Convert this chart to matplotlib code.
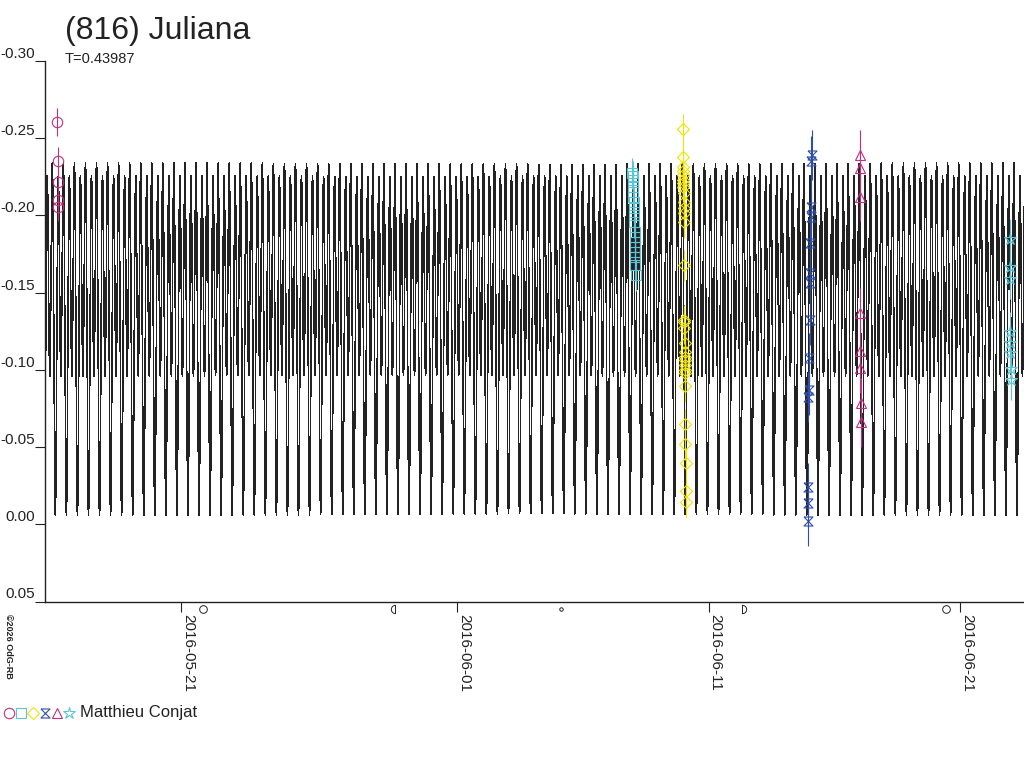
import datetime as dt
import numpy as np
import matplotlib
matplotlib.use("Agg")
import matplotlib.pyplot as plt
import matplotlib.dates as mdates
from matplotlib.path import Path
from matplotlib.lines import Line2D

plt.rcParams['font.family'] = ['Liberation Sans', 'DejaVu Sans']
plt.rcParams['axes.unicode_minus'] = False

# ---------------- data ----------------
title = "(816) Juliana"
period_label = "T=0.43987"
period = 0.43987
observer = "Matthieu Conjat"
copyright_text = "\u00a92026 OdG-RB"

# Fourier model of the lightcurve (mag vs phase)
model_c0 = -0.139
model_cos = [0.045, 0.088]
model_sin = [0.004, 0.0]
model_epoch = 15.0          # days since 2016-05-01
model_step = 0.01           # days between model samples

# observation sessions (time: days since 2016-05-01, relative magnitude)
circ_t = [15.08, 15.09, 15.10, 15.11, 15.12]
circ_m = [-0.2603, -0.2354, -0.2218, -0.2098, -0.2052]
circ_e = 0.009

sq_t = [37.96, 37.97, 37.98, 37.99, 38.00, 38.00, 38.01, 38.02, 38.03,
        38.04, 38.05, 38.05, 38.06, 38.07, 38.08, 38.08, 38.09]
sq_m = [-0.2274, -0.2255, -0.2229, -0.2184, -0.2151, -0.2119, -0.2086, -0.2047,
        -0.2002, -0.1957, -0.1892, -0.1860, -0.1795, -0.1762, -0.1730, -0.1678,
        -0.1613]
sq_e = 0.010

dia_t = [39.97, 39.97, 39.98, 39.98, 39.98, 39.99, 39.99, 39.99, 40.00, 40.00,
         40.00, 40.01, 40.01, 40.02, 40.03, 40.03, 40.03, 40.04, 40.04, 40.04,
         40.05, 40.05, 40.05, 40.06, 40.06, 40.07, 40.07, 40.08, 40.08, 40.09]
dia_m = [-0.2559, -0.2378, -0.2313, -0.2287, -0.2261, -0.2229, -0.2209, -0.2184,
         -0.2145, -0.2086, -0.2047, -0.2015, -0.1957, -0.1678, -0.1322, -0.1309,
         -0.1270, -0.1173, -0.1114, -0.1082, -0.1062, -0.1030, -0.0998, -0.0978,
         -0.0894, -0.0648, -0.0518, -0.0395, -0.0214, -0.0142]
dia_e = 0.010

hg_t = [45.10, 45.09, 45.08, 45.07, 45.05, 45.04, 45.03, 45.02, 45.00, 44.98,
        44.97, 44.96, 44.95, 44.94]
hg_m = [-0.2391, -0.2352, -0.2054, -0.1989, -0.1821, -0.1626, -0.1562, -0.1322,
        -0.1076, -0.0869, -0.0823, -0.0240, -0.0137, -0.0021]
hg_e = 0.016

tri_t = [47.01, 47.01, 47.02, 47.03, 47.03, 47.04, 47.05, 47.05]
tri_m = [-0.2391, -0.2309, -0.2121, -0.1368, -0.1123, -0.1011, -0.0785, -0.0663]
tri_e = 0.016

star_t = [52.98, 52.98, 52.99, 53.00, 53.00, 53.01, 53.02, 53.02]
star_m = [-0.1847, -0.1666, -0.1588, -0.1245, -0.1173, -0.1109, -0.1005, -0.0933]
star_e = 0.013

# moon phases (days since 2016-05-01) and kinds
moon_t = [20.88, 28.51, 35.13, 42.34, 50.46]
moon_kind = ["full", "last", "new", "first", "full"]

y_ticks = [-0.30, -0.25, -0.20, -0.15, -0.10, -0.05, 0.00, 0.05]
x_range = (14.59, 53.55)

# ---------------- styles ----------------
C_MAG = "#c0307f"
C_CYAN = "#5cc4d6"
C_YEL = "#f2e200"
C_BLUE = "#2f4fa6"
C_LINE = "#222222"
TXT = "#222222"

base = mdates.date2num(dt.datetime(2016, 5, 1))

hourglass = Path([(-1, 1), (1, 1), (-1, -1), (1, -1), (-1, 1)],
                 [Path.MOVETO, Path.LINETO, Path.LINETO, Path.LINETO, Path.LINETO])
arc_r = Path.arc(-90, 90)
first_q = Path(np.vstack([arc_r.vertices, [[0, -1]]]),
               list(arc_r.codes) + [Path.LINETO])
arc_l = Path.arc(90, 270)
last_q = Path(np.vstack([arc_l.vertices, [[0, 1]]]),
              list(arc_l.codes) + [Path.LINETO])

fig = plt.figure(figsize=(10.24, 7.68), dpi=100)
W, H = 1024, 768
ax = fig.add_axes([45 / W, 1 - 601.5 / H, (W - 45) / W, (601.5 - 61) / H])

# model curve
t_model = np.arange(x_range[0] + 0.01, x_range[1] + 0.05, model_step)
ph = 2 * np.pi * (t_model - model_epoch) / period
m_model = model_c0 + sum(a * np.cos((k + 1) * ph) for k, a in enumerate(model_cos)) \
    + sum(b * np.sin((k + 1) * ph) for k, b in enumerate(model_sin))
ax.plot(base + t_model, m_model, color=C_LINE, lw=0.4, antialiased=False, zorder=1)

sessions = [
    (circ_t, circ_m, circ_e, 'o', C_MAG),
    (sq_t, sq_m, sq_e, 's', C_CYAN),
    (dia_t, dia_m, dia_e, 'D', C_YEL),
    (hg_t, hg_m, hg_e, hourglass, C_BLUE),
    (tri_t, tri_m, tri_e, '^', C_MAG),
    (star_t, star_m, star_e, '*', C_CYAN),
]
sizes = {'o': 7.5, 's': 6.5, 'D': 6.0, '^': 7.5, '*': 9.0}
for t, m, e, mk, c in sessions:
    tt = base + np.array(t)
    ax.errorbar(tt, m, yerr=e, fmt='none', ecolor=c, elinewidth=0.8, capsize=0, zorder=2)
    ms = sizes.get(mk, 6.5) if isinstance(mk, str) else 6.5
    ax.plot(tt, m, linestyle='none', marker=mk, mfc='none', mec=c, ms=ms, mew=0.8, zorder=3)

ax.set_xlim(base + x_range[0], base + x_range[1])
ax.set_ylim(0.05, -0.30)

for s in ['top', 'right']:
    ax.spines[s].set_visible(False)
for s in ['left', 'bottom']:
    ax.spines[s].set_color(TXT)
    ax.spines[s].set_linewidth(1.0)

ax.set_yticks(y_ticks)
ax.set_yticklabels([f"{v:.2f}" for v in y_ticks])
ax.tick_params(axis='y', direction='out', length=7, width=0.8, colors=TXT,
               labelsize=11, pad=0)
for lab in ax.get_yticklabels():
    lab.set_verticalalignment('bottom')

ax.xaxis.set_major_locator(mdates.DayLocator(bymonthday=[1, 11, 21]))
ax.xaxis.set_major_formatter(mdates.DateFormatter('%Y-%m-%d'))
ax.tick_params(axis='x', direction='out', length=7.5, width=0.8, colors=TXT,
               labelsize=11, pad=1.5, labelrotation=-90)
for lab in ax.get_xticklabels():
    lab.set_horizontalalignment('left')
    lab.set_verticalalignment('top')

# moon phases
moon_tr = ax.get_xaxis_transform()
for t, kind in zip(moon_t, moon_kind):
    if kind == 'full':
        mk, ms = 'o', 5.5
    elif kind == 'new':
        mk, ms = 'o', 2.5
    elif kind == 'first':
        mk, ms = first_q, 6.0
    else:
        mk, ms = last_q, 6.0
    ax.plot([base + t], [-7 / 540], transform=moon_tr, marker=mk, ms=ms, mfc='none',
            mec=TXT, mew=0.7, clip_on=False, linestyle='none')

# texts
fig.text(65 / W, 1 - 39 / H, title, fontsize=23, color=TXT, va='baseline', ha='left')
fig.text(65 / W, 1 - 63 / H, period_label, fontsize=10.5, color=TXT, va='baseline', ha='left')
fig.text(4 / W, 1 - 614 / H, copyright_text, fontsize=6.5, color=TXT, rotation=-90,
         ha='left', va='top', fontweight='bold')

# legend
leg_markers = [('o', C_MAG, 7.5), ('s', C_CYAN, 6.5), ('D', C_YEL, 6.0),
               (hourglass, C_BLUE, 6.5), ('^', C_MAG, 7.5), ('*', C_CYAN, 9.0)]
leg_x = [9, 21, 33, 45, 57, 69]
for (mk, c, ms), x in zip(leg_markers, leg_x):
    fig.add_artist(Line2D([x / W], [1 - 713 / H], transform=fig.transFigure, marker=mk,
                          mfc='none', mec=c, ms=ms, mew=0.8, linestyle='none'))
fig.text(80 / W, 1 - 713 / H, observer, fontsize=12, color=TXT, va='center', ha='left')

fig.savefig("out.png", dpi=100)
